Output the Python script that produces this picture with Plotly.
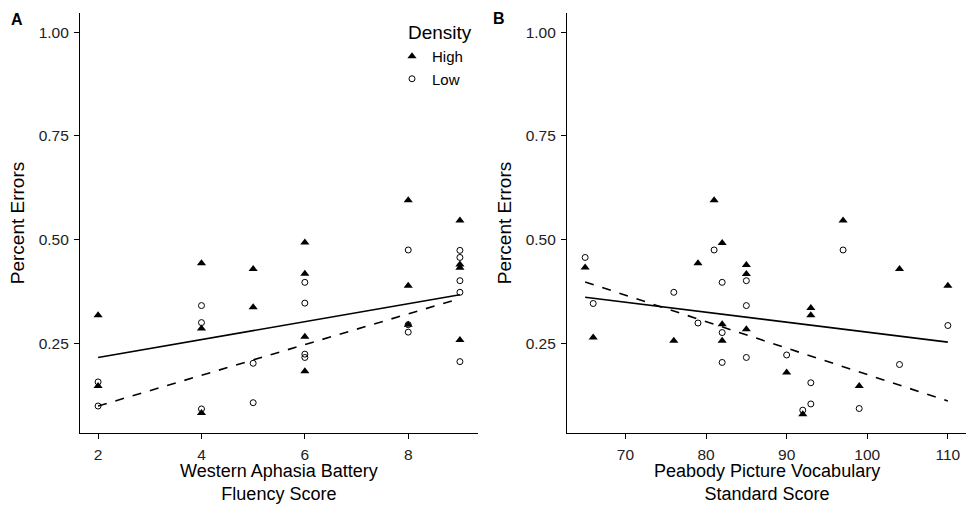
import plotly.graph_objects as go

# ---- Panel A data (Western Aphasia Battery Fluency Score) ----
a_high_x = [2, 2, 4, 4, 4, 5, 5, 6, 6, 6, 6, 8, 8, 8, 9, 9, 9, 9]
a_high_y = [0.318, 0.147, 0.443, 0.286, 0.082, 0.429, 0.337, 0.493, 0.418, 0.266, 0.183,
            0.595, 0.389, 0.295, 0.546, 0.440, 0.432, 0.258]
a_low_x = [2, 2, 4, 4, 4, 5, 5, 6, 6, 6, 6, 8, 8, 8, 9, 9, 9, 9, 9]
a_low_y = [0.157, 0.099, 0.341, 0.300, 0.092, 0.202, 0.107, 0.397, 0.347, 0.224, 0.216,
           0.475, 0.295, 0.277, 0.474, 0.457, 0.401, 0.373, 0.206]
a_fit_x = [2, 9]
a_fit_high = [0.216, 0.367]
a_fit_low = [0.099, 0.358]

# ---- Panel B data (Peabody Picture Vocabulary Standard Score) ----
b_high_x = [65, 66, 76, 79, 81, 82, 82, 82, 85, 85, 85, 90, 92, 93, 93, 97, 99, 104, 110]
b_high_y = [0.433, 0.264, 0.256, 0.443, 0.595, 0.492, 0.296, 0.256, 0.439, 0.417, 0.284,
            0.180, 0.079, 0.335, 0.318, 0.546, 0.147, 0.429, 0.389]
b_low_x = [65, 66, 76, 79, 81, 82, 82, 82, 85, 85, 85, 90, 92, 93, 93, 97, 99, 104, 110]
b_low_y = [0.457, 0.346, 0.373, 0.299, 0.475, 0.397, 0.276, 0.204, 0.401, 0.341, 0.216,
           0.222, 0.089, 0.155, 0.104, 0.475, 0.093, 0.199, 0.293]
b_fit_x = [65, 110]
b_fit_high = [0.361, 0.253]
b_fit_low = [0.398, 0.111]

y_ticks = [0.25, 0.50, 0.75, 1.00]
y_ticklabels = ["0.25", "0.50", "0.75", "1.00"]
a_ticks = [2, 4, 6, 8]
b_ticks = [70, 80, 90, 100, 110]
a_xtitle = "Western Aphasia Battery<br>Fluency Score"
b_xtitle = "Peabody Picture Vocabulary<br>Standard Score"

FONT = "Liberation Sans, Arial, sans-serif"

fig = go.Figure()

def add_panel(xa, ya, hx, hy, lx, ly, fx, fh, fl, show):
    fig.add_trace(go.Scatter(x=fx, y=fh, mode="lines", xaxis=xa, yaxis=ya,
                             line=dict(color="black", width=1.6), showlegend=False, hoverinfo="skip"))
    fig.add_trace(go.Scatter(x=fx, y=fl, mode="lines", xaxis=xa, yaxis=ya,
                             line=dict(color="black", width=1.6, dash="dash"), showlegend=False, hoverinfo="skip"))
    fig.add_trace(go.Scatter(x=hx, y=hy, mode="markers", name="High", xaxis=xa, yaxis=ya,
                             marker=dict(symbol="triangle-up", size=8, color="black"),
                             showlegend=show, legendgroup="High"))
    fig.add_trace(go.Scatter(x=lx, y=ly, mode="markers", name="Low", xaxis=xa, yaxis=ya,
                             marker=dict(symbol="circle-open", size=6, color="black",
                                         line=dict(width=1, color="black")),
                             showlegend=show, legendgroup="Low"))

add_panel("x", "y", a_high_x, a_high_y, a_low_x, a_low_y, a_fit_x, a_fit_high, a_fit_low, True)
add_panel("x2", "y2", b_high_x, b_high_y, b_low_x, b_low_y, b_fit_x, b_fit_high, b_fit_low, False)

W, H = 967, 506
ydom = [(H - 433) / H, (H - 13) / H]
a_dom = [80 / W, 478 / W]
b_dom = [567 / W, 966 / W]

axis_common = dict(showline=True, linecolor="black", linewidth=1.2, ticks="outside",
                   ticklen=5, tickcolor="black", tickwidth=1, showgrid=False, zeroline=False,
                   automargin=False, ticklabelstandoff=2,
                   tickfont=dict(family=FONT, size=15.5, color="#222222"),
                   title_font=dict(family=FONT, size=19, color="black"))

title_font = dict(family=FONT, size=18, color="black")

fig.update_layout(
    width=W, height=H,
    margin=dict(l=0, r=0, t=0, b=0),
    paper_bgcolor="white", plot_bgcolor="white",
    font=dict(family=FONT, color="black"),
    xaxis=dict(domain=a_dom, range=[1.65, 9.35], tickvals=a_ticks, anchor="y", **axis_common),
    yaxis=dict(domain=ydom, range=[0.034, 1.046], tickvals=y_ticks, ticktext=y_ticklabels,
               title=dict(text="Percent Errors", standoff=8), anchor="x", **axis_common),
    xaxis2=dict(domain=b_dom, range=[62.75, 112.25], tickvals=b_ticks, anchor="y2", **axis_common),
    yaxis2=dict(domain=ydom, range=[0.034, 1.046], tickvals=y_ticks, ticktext=y_ticklabels,
                title=dict(text="Percent Errors", standoff=8), anchor="x2", **axis_common),
    legend=dict(x=392 / W, y=1 - 40 / H, xanchor="left", yanchor="top",
                font=dict(family=FONT, size=15, color="black"),
                bgcolor="rgba(0,0,0,0)", itemwidth=30, tracegroupgap=0),
    annotations=[
        dict(text=a_xtitle, x=sum(a_dom) / 2, y=(H - 482) / H, xref="paper", yref="paper",
             xanchor="center", yanchor="middle", showarrow=False, font=title_font),
        dict(text=b_xtitle, x=sum(b_dom) / 2, y=(H - 482) / H, xref="paper", yref="paper",
             xanchor="center", yanchor="middle", showarrow=False, font=title_font),
        dict(text="Density", x=406 / W, y=(H - 33) / H, xref="paper", yref="paper",
             xanchor="left", yanchor="middle", showarrow=False,
             font=dict(family=FONT, size=19, color="black")),
        dict(text="<b>A</b>", x=9 / W, y=(H - 20) / H, xref="paper", yref="paper",
             xanchor="left", yanchor="middle", showarrow=False,
             font=dict(family=FONT, size=16, color="black")),
        dict(text="<b>B</b>", x=491 / W, y=(H - 18) / H, xref="paper", yref="paper",
             xanchor="left", yanchor="middle", showarrow=False,
             font=dict(family=FONT, size=16, color="black")),
    ],
)

fig.write_html("out.html", config={"displayModeBar": False},
               post_script="document.body.style.margin='0';document.body.style.overflow='hidden';")
